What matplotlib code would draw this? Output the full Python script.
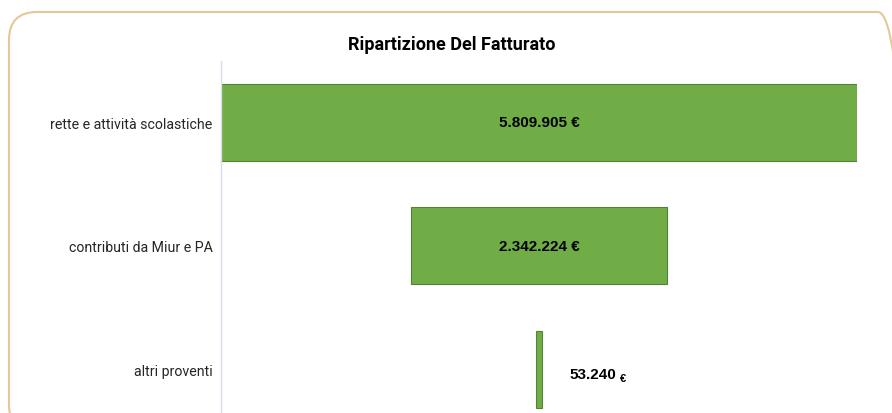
import matplotlib
matplotlib.use("Agg")
import matplotlib.pyplot as plt
from matplotlib.patches import FancyBboxPatch

categorie = ["rette e attività scolastiche", "contributi da Miur e PA", "altri proventi"]
valori = [5809905, 2342224, 53240]
etichette = ["5.809.905", "2.342.224", "53.240"]

VERDE = "#70AD47"
BORDO_BARRA = "#548235"
BORDO_BOX = "#E3C998"
ASSE = "#D9DEE6"
TESTO = "#262626"

W, H = 892, 414
fig = plt.figure(figsize=(W / 100, H / 100), dpi=100, facecolor="white")

# cornice arrotondata in pollici (esce a destra e in basso)
box = FancyBboxPatch((0.09, -0.2), 9.06 - 0.09, 4.01 + 0.2,
                     boxstyle="round,pad=0,rounding_size=0.28",
                     transform=fig.dpi_scale_trans, facecolor="none",
                     edgecolor=BORDO_BOX, linewidth=1.5, zorder=-1)
fig.patches.append(box)

ax = fig.add_axes([221 / W, 1 - 432 / H, 636 / W, (432 - 61.5) / H])
ax.set_facecolor("none")

vmax = max(valori)
pos = list(range(len(valori)))
ax.barh(pos, valori, left=[-v / 2 for v in valori], height=0.62,
        color=VERDE, edgecolor=BORDO_BARRA, linewidth=0.8, zorder=2)

ax.set_xlim(-vmax / 2, vmax / 2)
ax.set_ylim(len(valori) - 0.5, -0.5)
ax.set_yticks(pos)
ax.set_yticklabels(categorie, fontsize=10.2, color=TESTO, family="Roboto")
ax.tick_params(axis="y", length=0, pad=6)
ax.set_xticks([])
for nome, sp in ax.spines.items():
    sp.set_visible(nome == "left")
ax.spines["left"].set_color(ASSE)
ax.spines["left"].set_linewidth(1.0)

fig.canvas.draw()
renderer = fig.canvas.get_renderer()
for i, (v, t) in enumerate(zip(valori, etichette)):
    larghezza_px = v / vmax * 636
    if larghezza_px > 100:
        ax.text(0, i, t + " €", ha="center", va="center", fontsize=11,
                fontweight="bold", family="Liberation Sans", color="black", zorder=3)
    else:
        txt = ax.annotate(t, xy=(v / 2, i), xytext=(28, -5), textcoords="offset pixels",
                          ha="left", va="center", fontsize=11, fontweight="bold",
                          family="Liberation Sans", color="black", zorder=3)
        ext = txt.get_window_extent(renderer)
        fig.text((ext.x1 + 3) / W, ext.y0 / H, "€", ha="left", va="baseline",
                 fontsize=8, fontweight="bold", family="Liberation Sans", color="black")

fig.text(452 / W, 1 - 45 / H, "Ripartizione Del Fatturato", ha="center", va="center",
         fontsize=13, fontweight="bold", family="Roboto", color="black")

fig.savefig("out.png", dpi=100, facecolor="white")
